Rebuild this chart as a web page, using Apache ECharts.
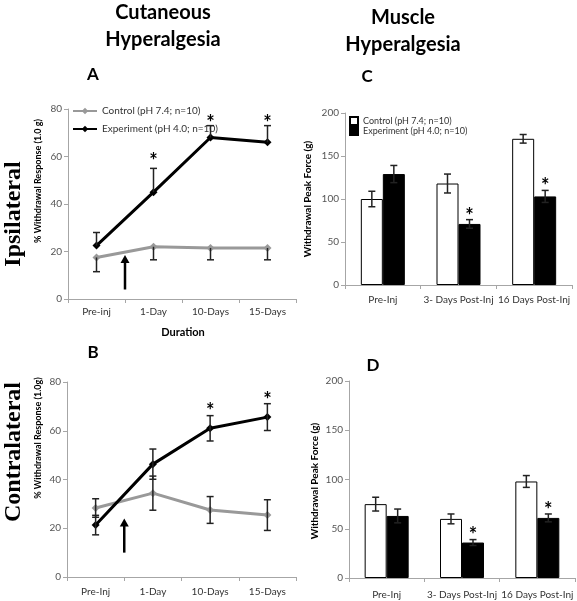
<!DOCTYPE html>
<html><head><meta charset="utf-8">
<script src="https://cdn.jsdelivr.net/npm/echarts@6/dist/echarts.min.js"></script>
<style>html,body{margin:0;padding:0;background:#fff}#c{width:577px;height:601px}</style>
</head><body><div id="c"></div>
<script>
const catsA = ['Pre-inj','1-Day','10-Days','15-Days'];
const catsB = ['Pre-Inj','1-Day','10-Days','15-Days'];
const catsM = ['Pre-Inj','3- Days Post-Inj','16 Days Post-Inj'];
const ctrlA = [17.5, 22, 21.5, 21.5];
const ctrlAErr = [6, 5.5, 5, 5];
const expA = [22.5, 45, 68, 66];
const expAErr = [5.5, 10, 5, 7];
const starsA = [null, 60, 76, 76];
const ctrlB = [28.3, 34.4, 27.5, 25.4];
const ctrlBErr = [3.8, 7, 5.5, 6.3];
const expB = [21.3, 46.3, 61, 65.6];
const expBErr = [4, 6.2, 5.2, 5.5];
const starsB = [null, null, 70, 74.6];
const ctrlC = [100, 118, 170];
const ctrlCErr = [9, 11, 5];
const expC = [129, 71, 103];
const expCErr = [10, 5, 7];
const starsC = [null, 85, 120];
const ctrlD = [75, 60, 98];
const ctrlDErr = [7, 5, 6];
const expD = [63, 36, 61];
const expDErr = [7, 3, 4];
const starsD = [null, 48, 74];
const arrowA = [4, 18.5];
const arrowB = [10, 24];
const ctrlName = 'Control (pH 7.4; n=10)';
const expName = 'Experiment (pH 4.0; n=10)';
const ctrlNameM = 'Control (pH 7.4; n=10) ';
const expNameM = 'Experiment (pH 4.0; n=10) ';

const FONT = 'Lato';
const AX = '#a6a6a6';

function errSeries(gi, vals, errs, dir, offset, color) {
  return {
    type: 'custom', xAxisIndex: gi, yAxisIndex: gi, z: 6, silent: true,
    encode: {x: 0, y: 1},
    data: vals.map((v, i) => [i, v, errs[i]]),
    renderItem: function (params, api) {
      const i = api.value(0), v = api.value(1), e = api.value(2);
      const p = api.coord([i, v]);
      const x = p[0] + offset;
      const lo = dir <= 0 ? api.coord([i, v - e])[1] : p[1];
      const hi = dir >= 0 ? api.coord([i, v + e])[1] : p[1];
      const st = {stroke: color, lineWidth: 1.5};
      const ch = [{type: 'line', shape: {x1: x, y1: lo, x2: x, y2: hi}, style: st}];
      if (dir <= 0) ch.push({type: 'line', shape: {x1: x - 3.5, y1: lo, x2: x + 3.5, y2: lo}, style: st});
      if (dir >= 0) ch.push({type: 'line', shape: {x1: x - 3.5, y1: hi, x2: x + 3.5, y2: hi}, style: st});
      return {type: 'group', children: ch};
    }
  };
}
function starSeries(gi, stars, offset) {
  return {
    type: 'custom', xAxisIndex: gi, yAxisIndex: gi, z: 7, silent: true,
    encode: {x: 0, y: 1},
    data: stars.map((v, i) => [i, v]).filter(d => d[1] != null),
    renderItem: function (params, api) {
      const p = api.coord([api.value(0), api.value(1)]);
      return {type: 'text', style: {text: '*', x: p[0] + offset, y: p[1] + 5, align: 'center', verticalAlign: 'middle',
        font: 'bold 20px ' + FONT, fill: '#000'}};
    }
  };
}
function arrowSeries(gi, arr) {
  return {
    type: 'custom', xAxisIndex: gi, yAxisIndex: gi, z: 7, silent: true,
    encode: {x: 0, y: 1},
    data: [[0, arr[0], arr[1]]],
    renderItem: function (params, api) {
      const w = api.size([1, 0])[0];
      const x = api.coord([0, api.value(1)])[0] + w / 2;
      const y1 = api.coord([0, api.value(1)])[1];
      const y2 = api.coord([0, api.value(2)])[1];
      return {type: 'group', children: [
        {type: 'line', shape: {x1: x, y1: y1, x2: x, y2: y2 + 6}, style: {stroke: '#000', lineWidth: 2.5}},
        {type: 'polygon', shape: {points: [[x - 4.5, y2 + 8], [x + 4.5, y2 + 8], [x, y2]]}, style: {fill: '#000'}}
      ]};
    }
  };
}
function xAx(gi, cats, margin) {
  return {type: 'category', gridIndex: gi, data: cats,
    axisLine: {lineStyle: {color: AX, width: 1}},
    axisTick: {show: true, length: 4, lineStyle: {color: AX}},
    axisLabel: {color: '#333', fontSize: 10, fontFamily: FONT, margin: margin, interval: 0}};
}
function yAx(gi, max, interval) {
  return {type: 'value', gridIndex: gi, min: 0, max: max, interval: interval,
    splitLine: {show: false},
    axisLine: {show: true, lineStyle: {color: AX, width: 1}},
    axisTick: {show: true, length: 4, lineStyle: {color: AX}},
    axisLabel: {color: '#555', fontSize: 10, fontFamily: FONT, margin: 6}};
}
function txt(x, y, s, font, rot) {
  return {type: 'text', x: x, y: y, rotation: rot || 0,
    style: {text: s, font: font, fill: '#000', align: 'center', verticalAlign: 'middle'}};
}

const chart = echarts.init(document.getElementById('c'), null, {renderer: 'canvas'});
chart.setOption({
  animation: false,
  backgroundColor: '#fff',
  textStyle: {fontFamily: FONT},
  grid: [
    {left: 68, top: 109, width: 228, height: 190},
    {left: 67, top: 382, width: 229, height: 195},
    {left: 345, top: 113, width: 227, height: 172},
    {left: 349, top: 381, width: 226, height: 197}
  ],
  xAxis: [xAx(0, catsA, 8), xAx(1, catsB, 10), xAx(2, catsM, 10), xAx(3, catsM, 12)],
  yAxis: [yAx(0, 80, 20), yAx(1, 80, 20), yAx(2, 200, 50), yAx(3, 200, 50)],
  legend: [
    {left: 72, top: 106, orient: 'vertical', padding: 0, itemGap: 8, itemWidth: 24, itemHeight: 8,
      selectedMode: false, data: [ctrlName, expName],
      textStyle: {fontSize: 10, color: '#333', fontFamily: FONT}},
    {left: 349, top: 116, orient: 'vertical', padding: 0, itemGap: 0, itemWidth: 8, itemHeight: 8,
      selectedMode: false, data: [{name: ctrlNameM, icon: 'rect'}, {name: expNameM, icon: 'rect'}],
      textStyle: {fontSize: 9, lineHeight: 10, color: '#333', fontFamily: FONT}}
  ],
  graphic: [
    txt(163, 13, 'Cutaneous', 'bold 20px ' + FONT),
    txt(163, 40, 'Hyperalgesia', 'bold 20px ' + FONT),
    txt(403, 18, 'Muscle', 'bold 20px ' + FONT),
    txt(403, 45, 'Hyperalgesia', 'bold 20px ' + FONT),
    txt(93, 75, 'A', 'bold 17px ' + FONT),
    txt(93, 353, 'B', 'bold 17px ' + FONT),
    txt(367, 77, 'C', 'bold 17px ' + FONT),
    txt(373, 366, 'D', 'bold 17px ' + FONT),
    txt(14, 214, 'Ipsilateral', 'bold 24px "Liberation Serif"', Math.PI / 2),
    txt(14, 452, 'Contralateral', 'bold 24px "Liberation Serif"', Math.PI / 2),
    txt(38, 181, '% Withdrawal Response (1.0 g)', 'bold 9px ' + FONT, Math.PI / 2),
    txt(38, 438, '% Withdrawal Response (1.0g)', 'bold 9px ' + FONT, Math.PI / 2),
    txt(308, 199, 'Withdrawal Peak Force (g)', 'bold 10px ' + FONT, Math.PI / 2),
    txt(315, 481, 'Withdrawal Peak Force (g)', 'bold 10px ' + FONT, Math.PI / 2),
    txt(183, 332, 'Duration', 'bold 11px ' + FONT)
  ],
  series: [
    {type: 'line', name: ctrlName, xAxisIndex: 0, yAxisIndex: 0, data: ctrlA, color: '#999',
      lineStyle: {width: 3, color: '#999'}, symbol: 'diamond', symbolSize: 8, z: 3},
    {type: 'line', name: expName, xAxisIndex: 0, yAxisIndex: 0, data: expA, color: '#000',
      lineStyle: {width: 3, color: '#000'}, symbol: 'diamond', symbolSize: 8, z: 4},
    errSeries(0, ctrlA, ctrlAErr, -1, 0, '#222'),
    errSeries(0, expA, expAErr, 1, 0, '#222'),
    starSeries(0, starsA, 0),
    arrowSeries(0, arrowA),

    {type: 'line', name: ctrlName, xAxisIndex: 1, yAxisIndex: 1, data: ctrlB, color: '#999',
      lineStyle: {width: 3, color: '#999'}, symbol: 'diamond', symbolSize: 8, z: 3},
    {type: 'line', name: expName, xAxisIndex: 1, yAxisIndex: 1, data: expB, color: '#000',
      lineStyle: {width: 3, color: '#000'}, symbol: 'diamond', symbolSize: 8, z: 4},
    errSeries(1, ctrlB, ctrlBErr, 0, 0, '#222'),
    errSeries(1, expB, expBErr, 0, 0, '#222'),
    starSeries(1, starsB, 0),
    arrowSeries(1, arrowB),

    {type: 'bar', name: ctrlNameM, xAxisIndex: 2, yAxisIndex: 2, data: ctrlC, barWidth: 22, barGap: '0%',
      itemStyle: {color: '#fff', borderColor: '#000', borderWidth: 1}},
    {type: 'bar', name: expNameM, xAxisIndex: 2, yAxisIndex: 2, data: expC, barWidth: 22, barGap: '0%',
      itemStyle: {color: '#000', borderColor: '#000', borderWidth: 1}},
    errSeries(2, ctrlC, ctrlCErr, 0, -11, '#222'),
    errSeries(2, expC, expCErr, 0, 11, '#222'),
    starSeries(2, starsC, 11),

    {type: 'bar', name: ctrlNameM, xAxisIndex: 3, yAxisIndex: 3, data: ctrlD, barWidth: 22, barGap: '0%',
      itemStyle: {color: '#fff', borderColor: '#000', borderWidth: 1}},
    {type: 'bar', name: expNameM, xAxisIndex: 3, yAxisIndex: 3, data: expD, barWidth: 22, barGap: '0%',
      itemStyle: {color: '#000', borderColor: '#000', borderWidth: 1}},
    errSeries(3, ctrlD, ctrlDErr, 0, -11, '#222'),
    errSeries(3, expD, expDErr, 0, 11, '#222'),
    starSeries(3, starsD, 11)
  ]
});
</script></body></html>
